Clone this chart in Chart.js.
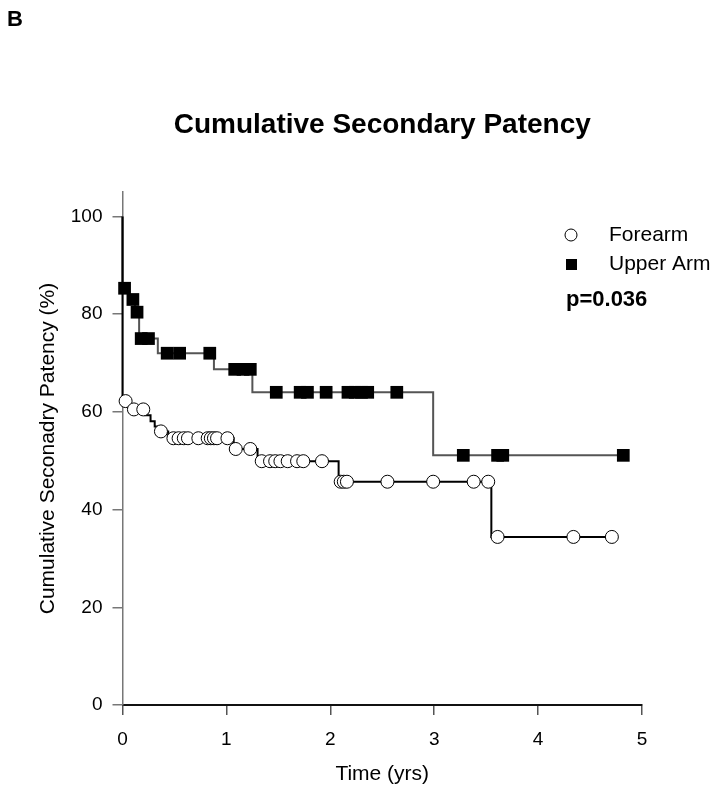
<!DOCTYPE html>
<html>
<head>
<meta charset="utf-8">
<script src="https://cdn.jsdelivr.net/npm/chart.js@4.4.1/dist/chart.umd.min.js"></script>
<style>
  html, body { margin: 0; padding: 0; background: #fff; }
  #wrap { width: 728px; height: 797px; }
</style>
</head>
<body>
<div id="wrap"><canvas id="km"></canvas></div>
<script>
// Kaplan-Meier step points (time in years, patency in %)
const forearmStepT = [0, 0, 0.07, 0.22, 0.27, 0.31, 0.34, 0.44, 1.07, 1.30, 2.08, 3.55, 4.71];
const forearmStepS = [100, 62.2, 60.5, 59.3, 58.1, 57.0, 56.0, 54.6, 52.4, 49.9, 45.7, 34.4, 34.4];

// censored observations (markers)
const forearmCensT = [0.03, 0.11, 0.20, 0.37, 0.49, 0.54, 0.59, 0.63, 0.73, 0.82, 0.85, 0.88, 0.91, 1.01,
    1.09, 1.23, 1.34, 1.42, 1.47, 1.52, 1.59, 1.68, 1.74, 1.92,
    2.10, 2.13, 2.16, 2.55, 2.99, 3.38, 3.52, 3.61, 4.34, 4.71];
const forearmCensS = [62.2, 60.5, 60.5, 56.0, 54.6, 54.6, 54.6, 54.6, 54.6, 54.6, 54.6, 54.6, 54.6, 54.6,
    52.4, 52.4, 49.9, 49.9, 49.9, 49.9, 49.9, 49.9, 49.9, 49.9,
    45.7, 45.7, 45.7, 45.7, 45.7, 45.7, 45.7, 34.4, 34.4, 34.4];

const upperStepT = [0, 0, 0.06, 0.12, 0.16, 0.34, 0.88, 1.25, 2.99, 4.82];
const upperStepS = [100, 85.3, 83.0, 80.4, 75.0, 72.0, 68.7, 64.0, 51.1, 51.1];

const upperCensT = [0.02, 0.10, 0.14, 0.18, 0.25, 0.43, 0.55, 0.84, 1.08, 1.16, 1.23,
    1.48, 1.71, 1.78, 1.96, 2.17, 2.24, 2.30, 2.36, 2.64, 3.28, 3.61, 3.66, 4.82];
const upperCensS = [85.3, 83.0, 80.4, 75.0, 75.0, 72.0, 72.0, 72.0, 68.7, 68.7, 68.7,
    64.0, 64.0, 64.0, 64.0, 64.0, 64.0, 64.0, 64.0, 64.0, 51.1, 51.1, 51.1, 51.1];

const xTicks = [0, 1, 2, 3, 4, 5];
const yTicks = [0, 20, 40, 60, 80, 100];

const toPts = (xs, ys) => xs.map((x, i) => ({ x: x, y: ys[i] }));

const FONT = "'Liberation Sans', Arial, sans-serif";

// legend, p value and panel letter
const extras = {
    id: 'extras',
    afterDraw(chart) {
        const c = chart.ctx;
        c.save();
        c.fillStyle = '#000';
        c.textBaseline = 'middle';
        c.textAlign = 'left';
        c.font = 'bold 22px ' + FONT;
        c.fillText('B', 7, 20);

        // legend markers
        c.beginPath();
        c.arc(571, 235, 6, 0, Math.PI * 2);
        c.fillStyle = '#fff';
        c.fill();
        c.lineWidth = 1;
        c.strokeStyle = '#000';
        c.stroke();
        c.fillStyle = '#000';
        c.fillRect(566, 259, 11, 11);

        c.font = '21px ' + FONT;
        c.fillText('Forearm', 609, 235);
        c.fillText('Upper Arm', 609, 264);
        c.font = 'bold 22px ' + FONT;
        c.fillText('p=0.036', 566, 300);
        c.restore();
    }
};

const ctx = document.getElementById('km').getContext('2d');
new Chart(ctx, {
    type: 'line',
    data: {
        datasets: [
            {
                label: 'Forearm',
                type: 'scatter',
                data: toPts(forearmCensT, forearmCensS),
                pointStyle: 'circle',
                pointRadius: 6.5,
                pointBackgroundColor: '#fff',
                pointBorderColor: '#000',
                pointBorderWidth: 1,
                clip: false,
                order: 0
            },
            {
                label: 'Upper Arm',
                type: 'scatter',
                data: toPts(upperCensT, upperCensS),
                pointStyle: 'rect',
                pointRadius: 9,
                pointBackgroundColor: '#000',
                pointBorderColor: '#000',
                pointBorderWidth: 0,
                clip: false,
                order: 1
            },
            {
                label: 'forearm line',
                data: toPts(forearmStepT, forearmStepS),
                stepped: 'before',
                borderColor: '#000',
                borderWidth: 2,
                pointRadius: 0,
                fill: false,
                clip: false,
                order: 2
            },
            {
                label: 'upper line',
                data: toPts(upperStepT, upperStepS),
                stepped: 'before',
                borderColor: '#555',
                borderWidth: 2,
                pointRadius: 0,
                fill: false,
                clip: false,
                order: 3
            }
        ]
    },
    options: {
        responsive: true,
        maintainAspectRatio: false,
        animation: false,
        layout: { padding: { left: 22, right: 86, top: 0, bottom: 0 } },
        plugins: {
            legend: { display: false },
            tooltip: { enabled: false },
            title: {
                display: true,
                fullSize: false,
                text: 'Cumulative Secondary Patency',
                color: '#000',
                font: { family: FONT, size: 28, weight: 'bold' },
                padding: { top: 108, bottom: 50.4 }
            }
        },
        scales: {
            x: {
                type: 'linear',
                min: 0,
                max: 5,
                afterBuildTicks: s => { s.ticks = xTicks.map(v => ({ value: v })); },
                afterFit: s => { s.height = 92; },
                ticks: { color: '#000', font: { family: FONT, size: 19 }, padding: 13 },
                grid: { drawOnChartArea: false, drawTicks: true, tickLength: 10, color: '#555', lineWidth: 1.5 },
                border: { display: true, color: '#111', width: 2 },
                title: {
                    display: true,
                    text: 'Time (yrs)',
                    color: '#000',
                    font: { family: FONT, size: 21 },
                    padding: { top: 4, bottom: 10 }
                }
            },
            y: {
                min: 0,
                max: 105,
                afterBuildTicks: s => { s.ticks = yTicks.map(v => ({ value: v })); },
                afterFit: s => { s.width = 100.5; },
                ticks: { color: '#000', font: { family: FONT, size: 19 }, padding: 10 },
                grid: { drawOnChartArea: false, drawTicks: true, tickLength: 10, color: '#777', lineWidth: 1.5 },
                border: { display: true, color: '#777', width: 1.5 },
                title: {
                    display: true,
                    text: 'Cumulative Seconadry Patency (%)',
                    color: '#000',
                    font: { family: FONT, size: 21 },
                    padding: { top: 14, bottom: 0 }
                }
            }
        }
    },
    plugins: [extras]
});
</script>
</body>
</html>
